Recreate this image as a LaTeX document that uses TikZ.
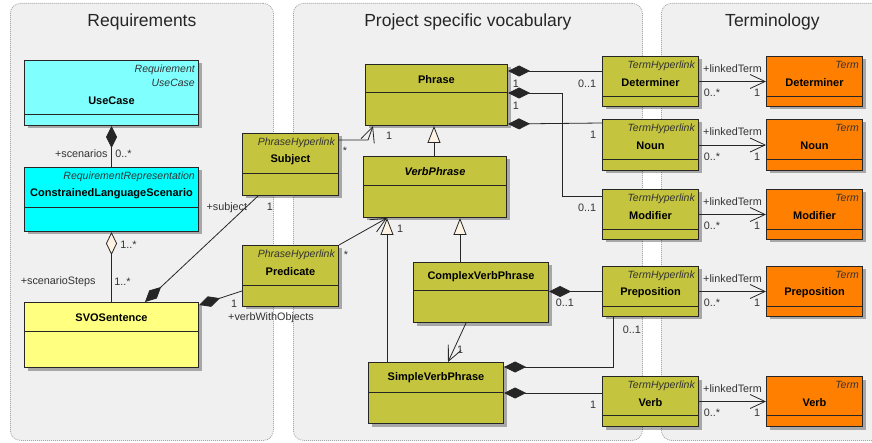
\documentclass[tikz,border=0pt]{standalone}
\usepackage{fontspec}
\setmainfont{Liberation Sans}
\usetikzlibrary{positioning, arrows.meta, shadows, calc}
\definecolor{panelfill}{HTML}{F0F0F0}
\definecolor{paneledge}{HTML}{A6A6A6}
\definecolor{usecasecyan}{HTML}{80FFFF}
\definecolor{reqcyan}{HTML}{00FFFF}
\definecolor{svoyellow}{HTML}{FFFF80}
\definecolor{vocabolive}{HTML}{C4C43E}
\definecolor{termorange}{HTML}{FF8000}
\definecolor{tipcream}{HTML}{FFF4E4}
\definecolor{boxedge}{HTML}{262626}
\definecolor{labelgray}{HTML}{333333}
\newcommand{\clsfont}{\fontsize{11}{12}\selectfont\bfseries}
\newcommand{\stfont}{\fontsize{10.5}{14}\selectfont\itshape}
\newcommand{\lblfont}{\fontsize{10.8}{12}\selectfont}

\begin{document}
\begin{tikzpicture}[x=1pt, y=-1pt,
		panel/.style={
			rectangle,
			rounded corners=10pt,
			draw=paneledge,
			fill=panelfill,
			line width=0.8pt,
			dash pattern=on 1pt off 1pt,
			anchor=north west,
			inner sep=0pt
		},
		paneltitle/.style={
			font=\fontsize{17.5}{20}\selectfont,
			text=black!85
		},
		umlclass/.style={
			rectangle,
			draw=boxedge,
			line width=1pt,
			anchor=north west,
			inner sep=0pt,
			drop shadow={shadow xshift=3pt, shadow yshift=-3pt, fill=black, opacity=0.3}
		},
		hdr/.style={
			path picture={\draw[boxedge, line width=1pt] ($(path picture bounding box.north west)+(0pt,-#1pt)$) -- ($(path picture bounding box.north east)+(0pt,-#1pt)$);}
		},
		olive/.style={
			umlclass,
			fill=vocabolive
		},
		orange/.style={
			umlclass,
			fill=termorange
		},
		cname/.style={
			font=\clsfont,
			anchor=center,
			inner sep=0pt
		},
		plainname/.style={
			label={[cname, yshift=-16pt]north:#1}
		},
		stname/.style={
			label={[cname, yshift=-27pt]north:#1}
		},
		stereo/.style={
			label={[font=\stfont, text=black!80, align=right, anchor=north east, inner sep=0pt, xshift=-4pt, yshift=-5pt]north east:#1}
		},
		lbl/.style={
			font=\lblfont,
			text=labelgray,
			inner sep=1.5pt
		},
		assoc/.style={
			draw=black!85,
			line width=0.8pt
		},
		compd/.tip={Diamond[length=22pt, width=11pt]},
		aggd/.tip={Diamond[length=23pt, width=11pt, fill=tipcream]},
		gentri/.tip={Triangle[length=17pt, width=13pt, fill=tipcream]},
		navbarb/.tip={Straight Barb[length=15pt, width=14pt]},
		gen/.style={
			assoc,
			-{gentri}
		}]

		\useasboundingbox (0,0) rectangle (872,443);

		% PANELS

		\node[panel, minimum width=263pt, minimum height=437pt] (reqpanel) at (10,3) {};
		\node[panel, minimum width=349pt, minimum height=437pt] (vocabpanel) at (293,3) {};
		\node[panel, minimum width=222pt, minimum height=437pt] (termpanel) at (661,3) {};
		\node[paneltitle] (reqtitle) at ($(reqpanel.north)+(0,19)$) {Requirements};
		\node[paneltitle] (vocabtitle) at ($(vocabpanel.north)+(0,19)$) {Project specific vocabulary};
		\node[paneltitle] (termtitle) at ($(termpanel.north)+(0,19)$) {Terminology};

		% REQUIREMENTS

		\node[umlclass, fill=usecasecyan, minimum width=174pt, minimum height=65pt, hdr=54, stereo={Requirement\\UseCase}, label={[cname, yshift=-41pt]north:UseCase}] (usecase) at (24,60) {};
		\node[umlclass, fill=reqcyan, minimum width=174pt, minimum height=64pt, hdr=40, stereo=RequirementRepresentation, stname=ConstrainedLanguageScenario] (cls) at (24,167) {};
		\node[umlclass, fill=svoyellow, minimum width=174pt, minimum height=65pt, hdr=29, plainname=SVOSentence] (svo) at (24,302) {};

		% VOCABULARY

		\node[olive, minimum width=96pt, minimum height=62pt, hdr=40, stereo=PhraseHyperlink, stname=Subject] (subject) at (242,133) {};
		\node[olive, minimum width=96pt, minimum height=61pt, hdr=40, stereo=PhraseHyperlink, stname=Predicate] (predicate) at (242,245) {};
		\node[olive, minimum width=142pt, minimum height=61pt, hdr=28, plainname=Phrase] (phrase) at (365,64) {};
		\node[olive, minimum width=143pt, minimum height=61pt, hdr=29, label={[cname, font=\clsfont\itshape, yshift=-16pt]north:VerbPhrase}] (verbphrase) at (363,156) {};
		\node[olive, minimum width=135pt, minimum height=60pt, hdr=28, label={[cname, yshift=-15pt]north:ComplexVerbPhrase}] (complex) at (413,262) {};
		\node[olive, minimum width=135pt, minimum height=61pt, hdr=30, plainname=SimpleVerbPhrase] (simple) at (368,362) {};

		\node[olive, minimum width=96pt, minimum height=50pt, hdr=40, stereo=TermHyperlink, stname=Determiner] (thdet) at (602,56) {};
		\node[olive, minimum width=96pt, minimum height=51pt, hdr=40, stereo=TermHyperlink, stname=Noun] (thnoun) at (602,119) {};
		\node[olive, minimum width=96pt, minimum height=50pt, hdr=40, stereo=TermHyperlink, stname=Modifier] (thmod) at (602,189) {};
		\node[olive, minimum width=96pt, minimum height=50pt, hdr=40, stereo=TermHyperlink, stname=Preposition] (thprep) at (602,266) {};
		\node[olive, minimum width=96pt, minimum height=50pt, hdr=39, stereo=TermHyperlink, stname=Verb] (thverb) at (602,376) {};

		% TERMINOLOGY

		\node[orange, minimum width=96pt, minimum height=50pt, hdr=40, stereo=Term, stname=Determiner] (termdet) at (766,56) {};
		\node[orange, minimum width=96pt, minimum height=51pt, hdr=40, stereo=Term, stname=Noun] (termnoun) at (766,119) {};
		\node[orange, minimum width=96pt, minimum height=50pt, hdr=40, stereo=Term, stname=Modifier] (termmod) at (766,189) {};
		\node[orange, minimum width=96pt, minimum height=50pt, hdr=40, stereo=Term, stname=Preposition] (termprep) at (766,266) {};
		\node[orange, minimum width=96pt, minimum height=50pt, hdr=39, stereo=Term, stname=Verb] (termverb) at (766,376) {};

		% REQUIREMENTS LINES

		\draw[assoc, {compd}-] (usecase.south) -- (cls.north) node[lbl, anchor=south east, xshift=-2pt, yshift=7pt] {+scenarios} node[lbl, anchor=south west, xshift=2pt, yshift=7pt] {0..*};
		\draw[assoc, {aggd}-] (cls.south) node[lbl, anchor=north west, xshift=7pt, yshift=-7pt] {1..*} -- (svo.north) node[lbl, anchor=south east, xshift=-14pt, yshift=13pt] {+scenarioSteps} node[lbl, anchor=south west, xshift=1pt, yshift=15pt] {1..*};
		\draw[assoc, {compd}-] ($(svo.north west)+(121,0)$) -- ($(subject.south west)+(16,0)$) node[lbl, anchor=north east, xshift=-9pt, yshift=-5pt] {+subject} node[lbl, anchor=north west, xshift=7pt, yshift=-5pt] {1};
		\draw[assoc, {compd}-] ($(svo.north east)+(0,3)$) -- ($(predicate.south west)+(0,-16)$) node[lbl, anchor=north east, xshift=-3pt, yshift=-7pt] {1} node[lbl, anchor=center, xshift=29pt, yshift=-27pt] {+verbWithObjects};

		% VOCABULARY LINES

		\draw[assoc, -{navbarb}] ($(subject.north east)+(0,7)$) node[lbl, anchor=north west, xshift=2pt, yshift=-5pt] {*} -- ++(29,0) -- ($(phrase.south west)+(8,0)$) node[lbl, anchor=center, xshift=16pt, yshift=-10pt] {1};
		\draw[assoc, -{navbarb}] (predicate.north east) node[lbl, anchor=north west, xshift=3pt, yshift=-4pt] {*} -- ($(verbphrase.south west)+(24,0)$) node[lbl, anchor=center, xshift=13pt, yshift=-11pt] {1};
		\draw[gen] ($(verbphrase.north west)+(71,0)$) -- ($(phrase.south west)+(69,0)$);
		\draw[gen] ($(simple.north west)+(19,0)$) -- ($(verbphrase.south west)+(24,0)$);
		\draw[gen] ($(complex.north west)+(47,0)$) -- ($(verbphrase.south west)+(97,0)$);
		\draw[assoc, -{navbarb}] ($(complex.south west)+(53,0)$) -- ($(simple.north west)+(80,0)$) node[lbl, anchor=center, xshift=12pt, yshift=12pt] {1};

		\draw[assoc, {compd}-] ($(phrase.north east)+(0,7)$) node[lbl, anchor=north west, xshift=3pt, yshift=-7pt] {1} -- ($(thdet.north west)+(0,15)$) node[lbl, anchor=north east, xshift=-4pt, yshift=-7pt] {0..1};
		\draw[assoc, {compd}-] ($(phrase.north east)+(0,29)$) node[lbl, anchor=north west, xshift=3pt, yshift=-7pt] {1} -| ($(thmod.north west)+(-40,7)$) -- ($(thmod.north west)+(0,7)$) node[lbl, anchor=north east, xshift=-4pt, yshift=-6pt] {0..1};
		\draw[assoc, {compd}-] ($(phrase.south east)+(0,-2)$) -- ($(thnoun.north west)+(0,4)$) node[lbl, anchor=north east, xshift=-4pt, yshift=-6pt] {1};
		\draw[assoc, {compd}-] (complex.east |- thprep.west) node[lbl, anchor=north west, xshift=5pt, yshift=-6pt] {0..1} -- (thprep.west);
		\draw[assoc, {compd}-] ($(simple.north east)+(0,5)$) -| ($(thprep.south west)+(11,0)$) node[lbl, anchor=north west, xshift=8pt, yshift=-7pt] {0..1};
		\draw[assoc, {compd}-] (simple.east) -- (thverb.west |- simple.east) node[lbl, anchor=north east, xshift=-4pt, yshift=-6pt] {1};

		% TERM LINKS

		\draw[assoc, -{navbarb}] (thdet.east) node[lbl, anchor=north west, xshift=3pt, yshift=-6pt] {0..*} -- node[lbl, above=7pt] {+linkedTerm} (termdet.west) node[lbl, anchor=north east, xshift=-4pt, yshift=-6pt] {1};
		\draw[assoc, -{navbarb}] (thnoun.east) node[lbl, anchor=north west, xshift=3pt, yshift=-6pt] {0..*} -- node[lbl, above=7pt] {+linkedTerm} (termnoun.west) node[lbl, anchor=north east, xshift=-4pt, yshift=-6pt] {1};
		\draw[assoc, -{navbarb}] (thmod.east) node[lbl, anchor=north west, xshift=3pt, yshift=-6pt] {0..*} -- node[lbl, above=7pt] {+linkedTerm} (termmod.west) node[lbl, anchor=north east, xshift=-4pt, yshift=-6pt] {1};
		\draw[assoc, -{navbarb}] (thprep.east) node[lbl, anchor=north west, xshift=3pt, yshift=-6pt] {0..*} -- node[lbl, above=7pt] {+linkedTerm} (termprep.west) node[lbl, anchor=north east, xshift=-4pt, yshift=-6pt] {1};
		\draw[assoc, -{navbarb}] (thverb.east) node[lbl, anchor=north west, xshift=3pt, yshift=-6pt] {0..*} -- node[lbl, above=7pt] {+linkedTerm} (termverb.west) node[lbl, anchor=north east, xshift=-4pt, yshift=-6pt] {1};
\end{tikzpicture}
\end{document}
